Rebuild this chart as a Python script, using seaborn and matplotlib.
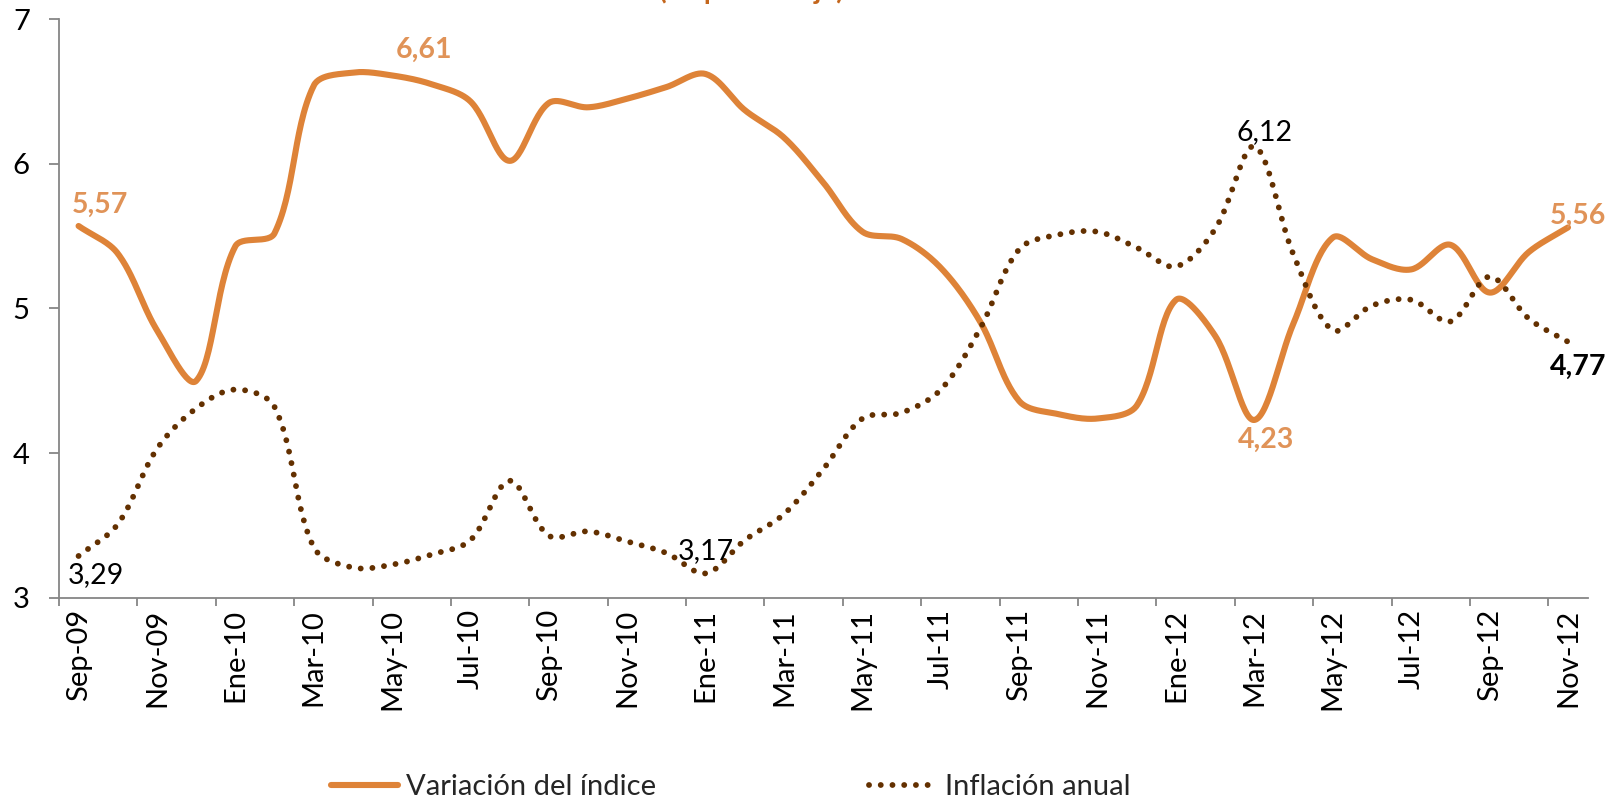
import numpy as np
import pandas as pd
import matplotlib
matplotlib.use('Agg')
import matplotlib.pyplot as plt
import seaborn as sns

sns.set_theme(style='white')
plt.rcParams['font.family'] = ['Lato', 'DejaVu Sans']

meses = ['Sep-09', 'Oct-09', 'Nov-09', 'Dic-09', 'Ene-10', 'Feb-10', 'Mar-10', 'Abr-10',
         'May-10', 'Jun-10', 'Jul-10', 'Ago-10', 'Sep-10', 'Oct-10', 'Nov-10', 'Dic-10',
         'Ene-11', 'Feb-11', 'Mar-11', 'Abr-11', 'May-11', 'Jun-11', 'Jul-11', 'Ago-11',
         'Sep-11', 'Oct-11', 'Nov-11', 'Dic-11', 'Ene-12', 'Feb-12', 'Mar-12', 'Abr-12',
         'May-12', 'Jun-12', 'Jul-12', 'Ago-12', 'Sep-12', 'Oct-12', 'Nov-12']

variacion = [5.57, 5.38, 4.85, 4.50, 5.43, 5.52, 6.54, 6.63, 6.61, 6.55, 6.43, 6.02, 6.42,
             6.39, 6.45, 6.53, 6.62, 6.37, 6.18, 5.87, 5.53, 5.48, 5.28, 4.91, 4.36, 4.27,
             4.24, 4.33, 5.06, 4.81, 4.23, 4.90, 5.49, 5.34, 5.27, 5.44, 5.11, 5.39, 5.56]

inflacion = [3.29, 3.51, 4.03, 4.31, 4.44, 4.32, 3.35, 3.21, 3.23, 3.30, 3.40, 3.81, 3.43,
             3.46, 3.39, 3.31, 3.17, 3.40, 3.58, 3.89, 4.24, 4.28, 4.44, 4.86, 5.41, 5.51,
             5.53, 5.42, 5.29, 5.55, 6.12, 5.37, 4.85, 5.02, 5.06, 4.91, 5.22, 4.93, 4.77]

naranja = '#DE8338'
naranja_txt = '#E09358'
marron = '#633000'


def suavizar(y, n=30, sx=39.2, sy=144.6):
    # curva suave al estilo Excel: Bezier con puntos de control
    # ponderados por la longitud de los tramos (en pixeles)
    p = np.column_stack([np.arange(len(y)) * sx, np.asarray(y, float) * sy])
    t = np.linspace(0, 1, n, endpoint=False)[:, None]
    trozos = []
    for i in range(len(p) - 1):
        p1, p2 = p[i], p[i + 1]
        p0 = p[i - 1] if i > 0 else p1
        p3 = p[i + 2] if i + 2 < len(p) else p2
        d01 = np.linalg.norm(p1 - p0)
        d12 = np.linalg.norm(p2 - p1)
        d23 = np.linalg.norm(p3 - p2)
        c1 = p1 + (p2 - p0) * d12 / (d01 + d12) / 3
        c2 = p2 - (p3 - p1) * d12 / (d12 + d23) / 3
        b = ((1 - t)**3) * p1 + 3 * ((1 - t)**2) * t * c1 + 3 * (1 - t) * t**2 * c2 + t**3 * p2
        trozos.append(b)
    trozos.append(p[-1:])
    b = np.vstack(trozos)
    return b[:, 0] / sx, b[:, 1] / sy


xv, yv = suavizar(variacion)
xi, yi = suavizar(inflacion)
df_v = pd.DataFrame({'x': xv, 'valor': yv})
df_i = pd.DataFrame({'x': xi, 'valor': yi})

fig = plt.figure(figsize=(16.2, 8.02), dpi=100)
ax = fig.add_axes([0.0364, 0.2544, 0.980 - 0.0364, 0.9763 - 0.2544])

sns.lineplot(data=df_v, x='x', y='valor', ax=ax, color=naranja, linewidth=4.4,
             sort=False, estimator=None, label='Variación del índice',
             solid_capstyle='round')
sns.lineplot(data=df_i, x='x', y='valor', ax=ax, color=marron, linewidth=4.2,
             sort=False, estimator=None, label='Inflación anual',
             linestyle=(0, (0.01, 2.0)), dash_capstyle='round')

ax.set_xlim(-0.5, len(meses) - 0.5)
ax.set_ylim(3, 7)
ax.set_yticks([3, 4, 5, 6, 7])
ax.set_yticklabels(['3', '4', '5', '6', '7'])
ax.set_xticks(range(0, len(meses), 2))
ax.set_xticklabels(meses[::2], rotation=90)
ax.set_xticks(np.arange(-0.5, len(meses), 2), minor=True)
ax.set_xlabel('')
ax.set_ylabel('')

gris = '#868686'
for s in ['top', 'right']:
    ax.spines[s].set_visible(False)
for s in ['left', 'bottom']:
    ax.spines[s].set_color(gris)
    ax.spines[s].set_linewidth(1.3)
ax.tick_params(axis='y', which='major', direction='out', length=7, width=1.3,
               color=gris, left=True, labelsize=21, pad=14, labelcolor='black')
ax.tick_params(axis='x', which='major', length=0, labelsize=21, pad=8,
               labelcolor='black')
ax.tick_params(axis='x', which='minor', direction='out', length=6, width=1.3,
               color=gris, bottom=True)

# etiquetas de datos
etiquetas = [
    (0, variacion, '5,57', 21, -21, naranja_txt, 'bold'),
    (8, variacion, '6,61', 32, -26, naranja_txt, 'bold'),
    (30, variacion, '4,23', 12, 20, naranja_txt, 'bold'),
    (38, variacion, '5,56', 10, -12, naranja_txt, 'bold'),
    (0, inflacion, '3,29', 17, 19, 'black', 'normal'),
    (16, inflacion, '3,17', 0, -22, 'black', 'normal'),
    (30, inflacion, '6,12', 10, -14, 'black', 'normal'),
    (38, inflacion, '4,77', 10, 25, 'black', 'bold'),
]
for i, serie, txt, dx, dy, col, peso in etiquetas:
    ax.annotate(txt, (i, serie[i]), xytext=(dx, -dy), textcoords='offset pixels',
                ha='center', va='center', fontsize=20.5, color=col, fontweight=peso)

# título recortado en el borde superior
fig.text(0.4636, 1.0 + 1 / 802, '(en porcentaje)', ha='center', va='baseline',
         fontsize=20, color='#C4661C', fontweight='bold')

h, l = ax.get_legend_handles_labels()
ax.get_legend().remove()
fig.legend(h, l, loc='center', bbox_to_anchor=(0.451, 0.019), ncol=2, frameon=False,
           fontsize=21, handlelength=2.3, handletextpad=0.3, columnspacing=7.3)

fig.savefig('out.png', dpi=100, facecolor='white')
